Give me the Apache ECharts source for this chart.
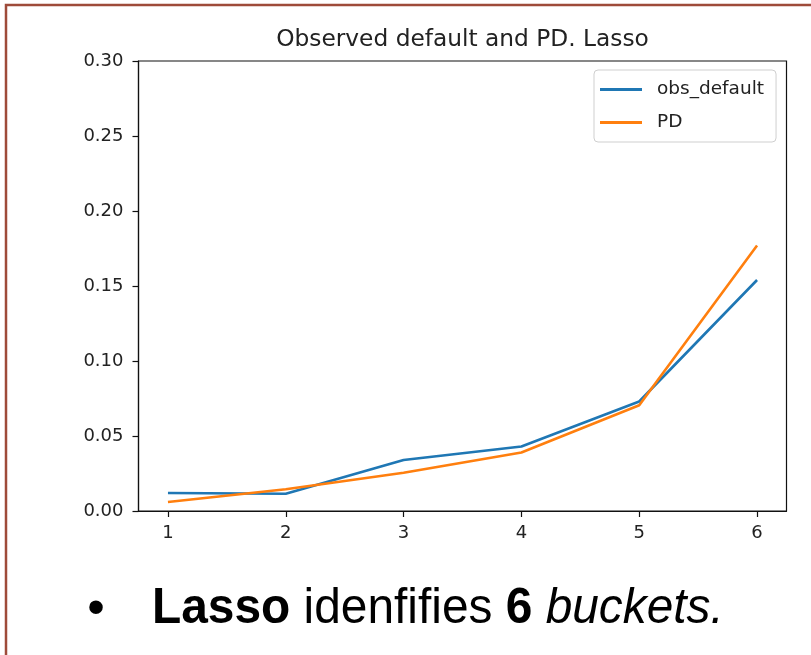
<!DOCTYPE html>
<html>
<head>
<meta charset="utf-8">
<script src="https://cdn.jsdelivr.net/npm/echarts@6/dist/echarts.min.js"></script>
<style>
  html, body { margin: 0; padding: 0; background: #fff; }
  #chart { width: 811px; height: 655px; }
</style>
</head>
<body>
<div id="chart"></div>
<script>
// Bucket index and observed / predicted default rates per bucket
const buckets = [1, 2, 3, 4, 5, 6];
const obsDefault = [0.012, 0.0115, 0.034, 0.043, 0.073, 0.154];
const pd = [0.006, 0.0145, 0.0255, 0.039, 0.0705, 0.177];

const chartTitle = 'Observed default and PD. Lasso';
const seriesNames = ['obs_default', 'PD'];

const tickFont = 'DejaVu Sans';
const ink = '#222';

const chart = echarts.init(document.getElementById('chart'), null, { renderer: 'canvas' });

const pairs = (vals) => buckets.map((b, i) => [b, vals[i]]);

chart.setOption({
  animation: false,
  backgroundColor: '#fff',
  grid: {
    left: 138.5, right: 24.5, top: 61, bottom: 144,
    show: true, borderColor: '#111', borderWidth: 1.2, backgroundColor: 'transparent'
  },
  xAxis: {
    type: 'value',
    min: 0.75, max: 6.25,
    splitLine: { show: false },
    axisLine: { show: true, onZero: false, lineStyle: { color: '#111', width: 1.2 } },
    axisTick: { show: true, inside: false, length: 6, customValues: buckets, lineStyle: { color: '#111', width: 1.2 } },
    axisLabel: {
      customValues: buckets, margin: 13, color: ink,
      fontFamily: tickFont, fontSize: 18,
      formatter: (v) => String(v)
    }
  },
  yAxis: {
    type: 'value',
    min: 0, max: 0.30, interval: 0.05,
    splitLine: { show: false },
    axisLine: { show: true, lineStyle: { color: '#111', width: 1.2 } },
    axisTick: { show: true, inside: false, length: 6, lineStyle: { color: '#111', width: 1.2 } },
    axisLabel: {
      margin: 15, color: ink, fontFamily: tickFont, fontSize: 18,
      formatter: (v) => v.toFixed(2)
    }
  },
  legend: {
    orient: 'vertical',
    left: 594, top: 70,
    padding: [10, 12, 10, 6],
    itemGap: 14,
    itemWidth: 42, itemHeight: 3,
    icon: 'rect',
    borderColor: '#cfcfcf', borderWidth: 1, borderRadius: 4,
    backgroundColor: '#fff',
    textStyle: { fontFamily: tickFont, fontSize: 18.5, color: ink, padding: [0, 0, 0, 10] },
    data: seriesNames
  },
  series: [
    {
      name: seriesNames[0], type: 'line', data: pairs(obsDefault),
      symbol: 'none', color: '#1f77b4',
      lineStyle: { width: 2.6, color: '#1f77b4' }
    },
    {
      name: seriesNames[1], type: 'line', data: pairs(pd),
      symbol: 'none', color: '#ff7f0e',
      lineStyle: { width: 2.6, color: '#ff7f0e' }
    }
  ],
  graphic: [
    {
      type: 'rect', silent: true, z: 100,
      shape: { x: 6, y: 5, width: 900, height: 800 },
      style: { fill: 'none', stroke: '#9e4b3a', lineWidth: 2.5 }
    },
    {
      type: 'text', x: 462.5, y: 40, z: 100,
      style: {
        text: chartTitle, fill: ink, font: '23.3px "DejaVu Sans"',
        align: 'center', verticalAlign: 'middle'
      }
    },
    {
      type: 'text', x: 96, y: 610, z: 100,
      style: {
        text: '\u2022', fill: '#000', font: '50px "Liberation Sans"',
        align: 'center', verticalAlign: 'middle'
      }
    },
    {
      type: 'text', x: 152, y: 609, z: 100, scaleX: 0.957,
      style: {
        text: '{b|Lasso}{n| idenfifies }{b|6}{i| buckets.}',
        align: 'left', verticalAlign: 'middle',
        rich: {
          b: { fontFamily: 'Liberation Sans', fontSize: 50, fontWeight: 'bold', fill: '#000' },
          n: { fontFamily: 'Liberation Sans', fontSize: 50, fill: '#000' },
          i: { fontFamily: 'Liberation Sans', fontSize: 50, fontStyle: 'italic', fill: '#000' }
        }
      }
    }
  ]
});
</script>
</body>
</html>
